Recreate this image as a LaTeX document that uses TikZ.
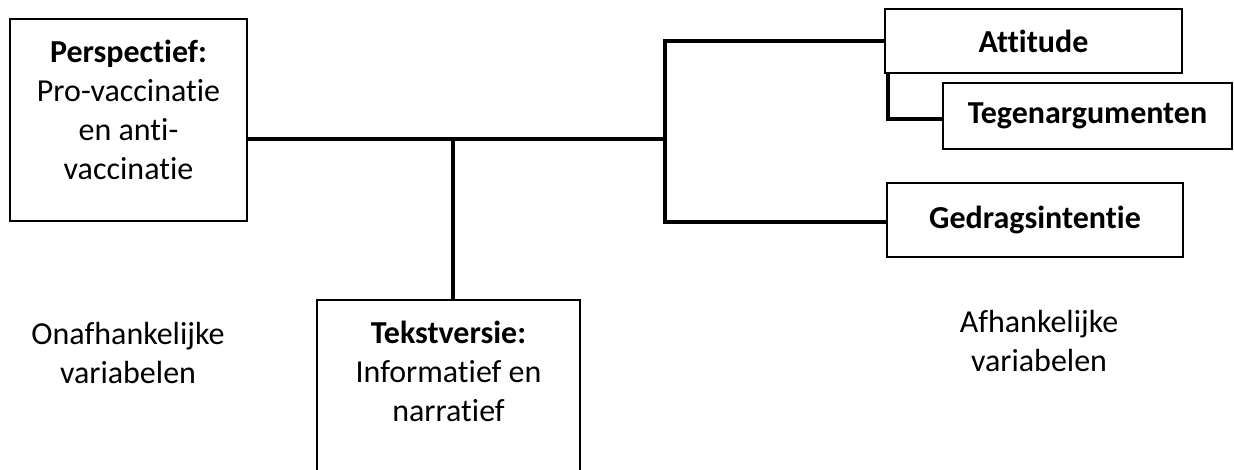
\documentclass[tikz,border=0pt]{standalone}
\usepackage{fontspec}
\setmainfont{Carlito}[Ligatures=NoCommon]
\begin{document}
\begin{tikzpicture}[x=1pt,y=-1pt,
  box/.style={draw=black, line width=1.2pt, inner sep=0pt, align=center, font=\fontsize{32}{39}\selectfont},
  conn/.style={line width=4pt},
  txt/.style={align=center, inner sep=0pt, font=\fontsize{32}{39}\selectfont}]
\useasboundingbox (0,0) rectangle (1234,469);
\clip (0,0) rectangle (1234,469);
\fill[white] (0,0) rectangle (1234,469);
% boxes
\node[box, minimum width=237pt, minimum height=202pt] (persp) at (128.5,120) {};
\node[txt] (perspT) at (128.5,110) {\textbf{Perspectief:}\\Pro-vaccinatie\\en anti-\\vaccinatie};
\node[box, minimum width=263pt, minimum height=190pt] (tekst) at (448.5,395) {};
\node[txt] (tekstT) at (448.5,371) {\textbf{Tekstversie:}\\Informatief en\\narratief};
\node[box, minimum width=297pt, minimum height=64pt] (att) at (1033.5,41) {\textbf{Attitude}};
\node[box, minimum width=289pt, minimum height=66pt] (teg) at (1087.5,116) {\textbf{Tegenargumenten}};
\node[box, minimum width=296pt, minimum height=74pt] (ged) at (1035,220) {\textbf{Gedragsintentie}};
% labels
\node[txt] (onaf) at (128,353) {Onafhankelijke\\variabelen};
\node[txt] (afh) at (1039,341) {Afhankelijke\\variabelen};
% connectors
\coordinate (j1) at (665,139);
\coordinate (j2) at (453,139);
\draw[conn] (persp.east |- j1) -- (j1);
\draw[conn] (j2) -- (j2 |- tekst.north);
\draw[conn] (att.west) -| (j1) |- ([yshift=-2pt]ged.west);
\draw[conn] ([xshift=4pt]att.south west) |- ([yshift=-3pt]teg.west);
\end{tikzpicture}
\end{document}
